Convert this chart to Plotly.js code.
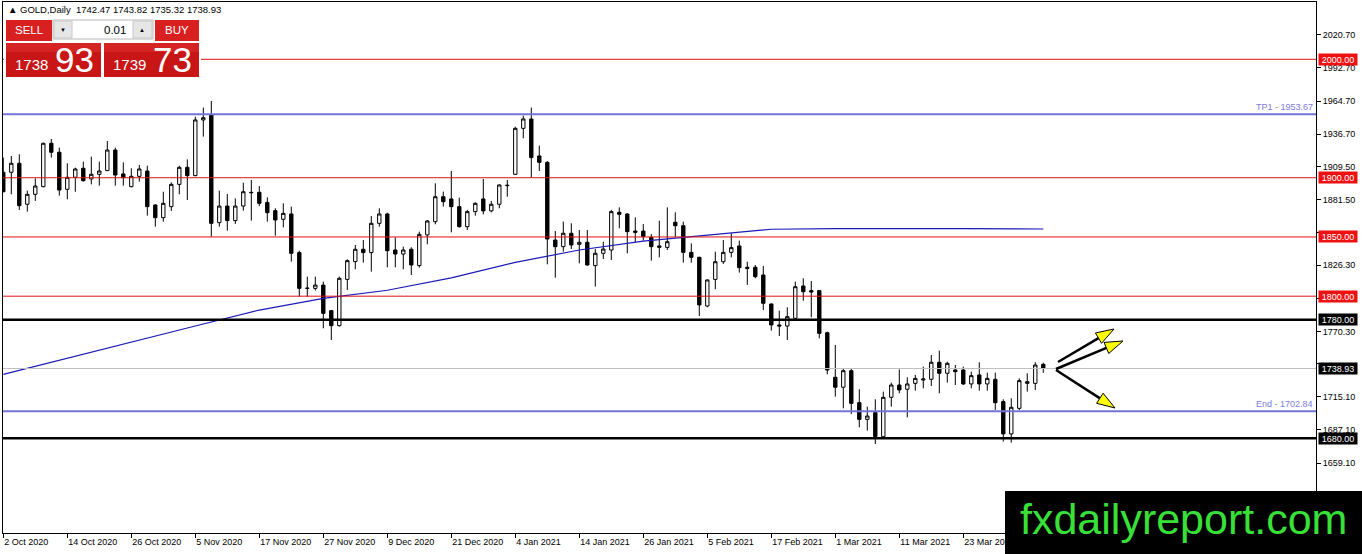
<!DOCTYPE html>
<html><head><meta charset="utf-8">
<script src="https://cdn.plot.ly/plotly-3.0.1.min.js"></script>
<style>html,body{margin:0;padding:0;background:#fff;}#chart{width:1362px;height:554px;}</style>
</head><body><div id="chart"></div>
<script>
// ---------- DATA ----------
const dates = [
'2020-10-02','2020-10-05','2020-10-06','2020-10-07','2020-10-08','2020-10-09','2020-10-12','2020-10-13','2020-10-14','2020-10-15','2020-10-16','2020-10-19','2020-10-20','2020-10-21','2020-10-22','2020-10-23','2020-10-26','2020-10-27','2020-10-28','2020-10-29','2020-10-30',
'2020-11-02','2020-11-03','2020-11-04','2020-11-05','2020-11-06','2020-11-09','2020-11-10','2020-11-11','2020-11-12','2020-11-13','2020-11-16','2020-11-17','2020-11-18','2020-11-19','2020-11-20','2020-11-23','2020-11-24','2020-11-25','2020-11-26','2020-11-27','2020-11-30',
'2020-12-01','2020-12-02','2020-12-03','2020-12-04','2020-12-07','2020-12-08','2020-12-09','2020-12-10','2020-12-11','2020-12-14','2020-12-15','2020-12-16','2020-12-17','2020-12-18','2020-12-21','2020-12-22','2020-12-23','2020-12-24','2020-12-28','2020-12-29','2020-12-30','2020-12-31',
'2021-01-04','2021-01-05','2021-01-06','2021-01-07','2021-01-08','2021-01-11','2021-01-12','2021-01-13','2021-01-14','2021-01-15','2021-01-18','2021-01-19','2021-01-20','2021-01-21','2021-01-22','2021-01-25','2021-01-26','2021-01-27','2021-01-28','2021-01-29',
'2021-02-01','2021-02-02','2021-02-03','2021-02-04','2021-02-05','2021-02-08','2021-02-09','2021-02-10','2021-02-11','2021-02-12','2021-02-15','2021-02-16','2021-02-17','2021-02-18','2021-02-19','2021-02-22','2021-02-23','2021-02-24','2021-02-25','2021-02-26',
'2021-03-01','2021-03-02','2021-03-03','2021-03-04','2021-03-05','2021-03-08','2021-03-09','2021-03-10','2021-03-11','2021-03-12','2021-03-15','2021-03-16','2021-03-17','2021-03-18','2021-03-19','2021-03-22','2021-03-23','2021-03-24','2021-03-25','2021-03-26','2021-03-29','2021-03-30','2021-03-31',
'2021-04-01','2021-04-05','2021-04-06','2021-04-07'];

const open = [1904.6,1904.6,1912.2,1877.6,1886.0,1892.5,1929.1,1921.5,1890.2,1900.4,1908.0,1899.0,1902.9,1906.0,1923.4,1903.2,1892.5,1901.2,1905.7,1877.0,1866.3,
1875.6,1894.4,1908.8,1901.8,1948.8,1953.0,1862.1,1876.1,1863.8,1876.1,1887.7,1887.7,1879.2,1872.2,1864.9,1869.4,1836.8,1806.9,1806.6,1809.4,1787.8,
1775.1,1814.2,1829.2,1839.6,1836.8,1861.5,1869.4,1839.0,1835.6,1839.6,1825.8,1851.7,1862.9,1884.0,1882.1,1875.6,1858.7,1871.4,1882.1,1872.0,1877.6,1893.3,
1902.9,1941.7,1949.6,1918.4,1913.0,1847.4,1841.8,1853.1,1843.8,1845.5,1825.8,1836.2,1839.0,1870.8,1869.4,1855.0,1855.0,1849.7,1841.2,1841.2,
1862.4,1859.5,1837.0,1832.8,1791.7,1814.2,1829.1,1837.0,1842.4,1824.4,1824.4,1817.9,1793.4,1775.7,1774.8,1781.3,1808.6,1804.7,1804.7,1769.2,
1731.5,1723.1,1737.1,1710.1,1696.0,1701.7,1681.4,1714.6,1725.0,1721.4,1726.4,1729.2,1729.8,1744.2,1734.9,1737.7,1737.7,1725.9,1733.5,1725.9,1729.8,1711.0,1683.7,
1705.3,1726.4,1726.4,1742.47];
const high = [1917.0,1918.4,1919.8,1889.1,1899.5,1929.6,1932.7,1925.4,1912.2,1908.5,1913.6,1917.8,1913.6,1931.0,1925.4,1913.0,1908.0,1910.8,1910.2,1877.5,1888.2,
1896.1,1910.2,1915.5,1951.6,1959.2,1964.8,1889.1,1886.3,1882.6,1895.8,1898.1,1893.0,1883.5,1874.2,1878.4,1875.6,1838.4,1816.5,1816.5,1812.3,1788.3,
1816.5,1831.1,1843.2,1847.4,1867.7,1874.2,1870.5,1849.7,1841.8,1841.3,1854.5,1864.3,1895.3,1888.3,1905.7,1883.2,1872.8,1879.2,1898.9,1880.4,1894.4,1898.1,
1943.1,1952.4,1959.2,1927.1,1914.1,1855.0,1863.0,1861.5,1855.9,1855.9,1839.8,1846.0,1872.8,1875.0,1870.0,1866.6,1860.9,1852.5,1863.7,1875.0,
1870.8,1862.9,1844.6,1833.4,1814.2,1837.6,1847.4,1853.1,1846.9,1829.1,1826.3,1825.5,1794.0,1787.8,1790.6,1812.3,1815.1,1812.8,1805.2,1770.0,
1758.8,1739.1,1739.1,1721.4,1706.7,1712.9,1719.4,1727.0,1738.2,1731.5,1733.5,1740.5,1750.3,1754.0,1744.7,1741.9,1740.5,1736.3,1744.2,1735.4,1735.4,1712.9,1713.8,
1730.6,1734.9,1744.2,1743.82];
const low = [1887.7,1886.0,1872.8,1871.4,1880.4,1891.9,1917.0,1884.9,1881.8,1888.2,1896.7,1894.4,1893.3,1905.7,1893.3,1893.3,1891.9,1896.7,1868.0,1858.7,1862.9,
1872.0,1886.0,1881.2,1901.2,1934.7,1850.3,1858.7,1855.3,1861.0,1872.2,1863.8,1876.1,1862.9,1851.1,1858.1,1829.2,1799.6,1799.6,1804.7,1772.9,1763.0,
1774.3,1805.2,1822.7,1828.3,1820.7,1858.7,1824.4,1824.4,1822.7,1817.9,1824.1,1843.8,1860.7,1875.6,1853.9,1857.9,1855.9,1868.0,1869.1,1870.8,1874.2,1884.0,
1902.3,1933.3,1900.1,1905.7,1826.9,1815.6,1837.6,1839.8,1827.7,1825.8,1808.1,1831.4,1830.6,1857.3,1836.2,1845.2,1846.9,1830.0,1832.8,1839.0,
1849.7,1828.3,1828.3,1783.3,1790.6,1805.8,1827.2,1832.8,1819.9,1809.5,1815.1,1788.3,1770.9,1766.4,1763.0,1780.5,1796.2,1782.2,1764.4,1734.0,
1715.2,1705.3,1700.5,1689.3,1686.5,1675.2,1680.0,1706.7,1718.0,1697.7,1720.2,1722.2,1724.2,1718.0,1727.0,1725.0,1725.0,1722.2,1720.2,1720.2,1703.9,1677.2,1676.3,
1703.9,1719.4,1720.8,1735.32];
const close = [1888.2,1912.2,1876.4,1886.0,1893.0,1929.1,1921.5,1889.6,1900.4,1907.4,1897.5,1902.9,1905.7,1923.4,1902.3,1900.1,1901.2,1907.4,1875.6,1866.3,1878.4,
1894.4,1908.8,1901.8,1948.8,1950.7,1861.5,1876.1,1863.8,1876.1,1888.2,1887.4,1878.4,1870.5,1864.3,1869.9,1836.2,1806.6,1806.6,1809.4,1785.5,1775.1,
1815.1,1830.0,1839.6,1836.8,1861.5,1869.4,1838.4,1835.6,1839.0,1826.3,1852.2,1863.5,1884.0,1879.8,1875.6,1858.7,1871.4,1878.4,1872.0,1877.6,1893.9,1893.6,
1941.7,1949.6,1917.0,1913.0,1848.3,1841.8,1853.1,1843.2,1845.5,1826.3,1836.2,1839.8,1871.4,1869.1,1854.5,1853.9,1850.3,1841.8,1842.4,1846.0,
1859.5,1837.0,1832.8,1792.6,1813.7,1829.1,1837.0,1841.0,1824.1,1823.5,1816.5,1794.0,1775.7,1774.8,1782.7,1808.0,1803.8,1803.5,1768.6,1737.7,
1723.1,1737.1,1709.5,1696.0,1698.8,1681.4,1714.6,1725.0,1720.8,1725.9,1730.6,1730.1,1744.2,1734.9,1743.3,1736.3,1725.9,1732.9,1725.9,1730.6,1710.1,1683.7,1706.2,
1728.7,1727.8,1741.9,1738.93];

const maDates = ['2020-10-02','2020-10-14','2020-10-26','2020-11-05','2020-11-17','2020-11-27','2020-12-09','2020-12-21','2021-01-04','2021-01-14','2021-01-26','2021-02-05','2021-02-17','2021-03-01','2021-03-11','2021-03-23','2021-04-07'];
const maValues = [1734.0,1747.8,1761.3,1774.8,1788.3,1798.2,1805.0,1815.5,1828.5,1839.0,1846.5,1851.5,1856.5,1857.0,1857.3,1857.0,1856.7];

const tickDates = ['2020-10-02','2020-10-14','2020-10-26','2020-11-05','2020-11-17','2020-11-27','2020-12-09','2020-12-21','2021-01-04','2021-01-14','2021-01-26','2021-02-05','2021-02-17','2021-03-01','2021-03-11','2021-03-23'];
const tickText = ['2 Oct 2020','14 Oct 2020','26 Oct 2020','5 Nov 2020','17 Nov 2020','27 Nov 2020','9 Dec 2020','21 Dec 2020','4 Jan 2021','14 Jan 2021','26 Jan 2021','5 Feb 2021','17 Feb 2021','1 Mar 2021','11 Mar 2021','23 Mar 2021'];

// price scale ticks; the ones hidden behind level labels carry no text
const priceTicks = [2020.70,1992.70,1964.70,1936.70,1909.50,1881.50,1853.50,1826.30,1798.30,1770.30,1743.10,1715.10,1687.10,1659.10];
const hiddenPriceTicks = [1853.50, 1798.30, 1743.10];

const redLevels = [2000, 1900, 1850, 1800];
const blackLevels = [1780, 1680];
const targetLevels = [1953.67, 1702.84];
const targetNames = ['TP1', 'End'];
const bidPrice = 1738.93;
const askPrice = 1739.73;
const lotSize = '0.01';
const symbolName = 'GOLD,Daily';
const watermark = 'fxdailyreport.com';

// ---------- LAYOUT HELPERS ----------
const W = 1362, H = 554;
const PL = 3, PR = 1316, PT = 2, PB = 533;
const fx = p => (p - PL) / (PR - PL);
const fy = p => (PB - p) / (PB - PT);
const FONT = 'Liberation Sans, Arial, sans-serif';
const RED_LINE = '#dd1111', PURPLE = '#7474d8', MA_BLUE = '#1a1ab8';

const shapes = [];
const annotations = [];

function rectPx(x0, y0, x1, y1, fill, line, lw) {
  shapes.push({type:'rect', xref:'paper', yref:'paper', x0:fx(x0), x1:fx(x1), y0:fy(y1), y1:fy(y0),
    fillcolor:fill, line:{color:line||fill, width:lw===undefined?0:lw}, layer:'above'});
}
function textPx(x, y, text, size, color, anchor, extra) {
  annotations.push(Object.assign({xref:'paper', yref:'paper', x:fx(x), y:fy(y), text:text, showarrow:false,
    xanchor:anchor||'center', yanchor:'middle', font:{family:FONT, size:size, color:color}}, extra||{}));
}

// horizontal levels
redLevels.forEach(v => {
  shapes.push({type:'line', xref:'paper', x0:0, x1:1, yref:'y', y0:v, y1:v, line:{color:RED_LINE, width:1}, layer:'above'});
  annotations.push({xref:'paper', x:1, xanchor:'left', xshift:2, yref:'y', y:v, yanchor:'middle', text:v.toFixed(2),
    showarrow:false, bgcolor:'#ee1111', width:38, height:11, borderpad:0, font:{family:FONT, size:9, color:'#ffffff'}});
});
shapes.push({type:'line', xref:'paper', x0:0, x1:1, yref:'y', y0:bidPrice, y1:bidPrice, line:{color:'#c0c0c0', width:1}, layer:'above'});
blackLevels.forEach(v => {
  shapes.push({type:'line', xref:'paper', x0:0, x1:1, yref:'y', y0:v, y1:v, line:{color:'#000000', width:2.5}, layer:'above'});
});
[...blackLevels, bidPrice].forEach(v => {
  annotations.push({xref:'paper', x:1, xanchor:'left', xshift:2, yref:'y', y:v, yanchor:'middle', text:v.toFixed(2),
    showarrow:false, bgcolor:'#000000', width:38, height:11, borderpad:0, font:{family:FONT, size:9, color:'#ffffff'}});
});
targetLevels.forEach((v, k) => {
  shapes.push({type:'line', xref:'paper', x0:0, x1:1, yref:'y', y0:v, y1:v, line:{color:PURPLE, width:2}, layer:'above'});
  annotations.push({xref:'paper', x:1, xanchor:'right', xshift:-1, yref:'y', y:v, yanchor:'bottom', yshift:0,
    text:targetNames[k] + ' - ' + v.toFixed(2), showarrow:false, font:{family:FONT, size:9, color:'#7b7be0'}});
});

// arrows (pixel geometry)
const arrowsPx = [
  {s:[1058, 362], t:[1114, 329]},
  {s:[1056, 369], t:[1123, 341]},
  {s:[1056, 370], t:[1115, 408]}
];
arrowsPx.forEach(a => {
  const dx = a.t[0]-a.s[0], dy = a.t[1]-a.s[1];
  const len = Math.hypot(dx, dy), ux = dx/len, uy = dy/len;
  const L = 18, w = 6;
  const bx = a.t[0]-L*ux, by = a.t[1]-L*uy;
  const nx = -uy, ny = ux;
  shapes.push({type:'line', xref:'paper', yref:'paper', x0:fx(a.s[0]), y0:fy(a.s[1]), x1:fx(bx+2*ux), y1:fy(by+2*uy),
    line:{color:'#000000', width:2.5}, layer:'above'});
  const pts = [[a.t[0], a.t[1]], [bx+w*nx, by+w*ny], [bx-w*nx, by-w*ny]];
  const path = 'M' + pts.map(p => fx(p[0]).toFixed(5) + ',' + fy(p[1]).toFixed(5)).join(' L') + ' Z';
  shapes.push({type:'path', xref:'paper', yref:'paper', path:path, fillcolor:'#ffff00', line:{color:'#000000', width:1}, layer:'above'});
});

// header
const last = close.length - 1;
textPx(6, 9, '▲ ' + symbolName + '  ' + open[last].toFixed(2) + ' ' + high[last].toFixed(2) + ' ' + low[last].toFixed(2) + ' ' + close[last].toFixed(2),
  9.5, '#000000', 'left');

// trading panel
rectPx(4, 18, 201, 78, '#ffffff', '#ffffff', 0);
rectPx(6, 20, 52, 41, '#d92020');
rectPx(155, 20, 199, 41, '#d92020');
rectPx(53, 20, 153, 39, '#ffffff', '#b8b8b8', 1);
rectPx(54, 21, 72, 38, '#e6e6e6', '#c8c8c8', 1);
rectPx(133, 21, 152, 38, '#e6e6e6', '#c8c8c8', 1);
rectPx(6, 43, 101, 77, '#c81616');
rectPx(104, 43, 199, 77, '#c81616');
rectPx(6, 43, 101, 52, '#d42424');
rectPx(104, 43, 199, 52, '#d42424');
textPx(29, 30, 'SELL', 11.5, '#ffffff');
textPx(177, 30, 'BUY', 11.5, '#ffffff');
textPx(63, 30, '▼', 6, '#000000');
textPx(142, 30, '▲', 6, '#000000');
textPx(128, 30, lotSize, 11.5, '#000000', 'right');
const bidStr = bidPrice.toFixed(2).split('.');
const askStr = askPrice.toFixed(2).split('.');
textPx(50, 64, bidStr[0], 15, '#ffffff', 'right');
textPx(53, 59, bidStr[1], 35, '#ffffff', 'left');
textPx(148, 64, askStr[0], 15, '#ffffff', 'right');
textPx(151, 59, askStr[1], 35, '#ffffff', 'left');

// watermark
rectPx(1005, 491, 1362, 554, '#000000');
textPx(1183, 519, watermark, 43, '#38e038', 'center');

// ---------- TRACES ----------
const traces = [
  {type:'scatter', mode:'lines', x:maDates, y:maValues, line:{color:MA_BLUE, width:1.2}, hoverinfo:'skip'},
  {type:'candlestick', x:dates, open:open, high:high, low:low, close:close, whiskerwidth:0,
    increasing:{line:{color:'#000000', width:1}, fillcolor:'#ffffff'},
    decreasing:{line:{color:'#000000', width:1}, fillcolor:'#000000'}, hoverinfo:'skip'}
];

const layout = {
  width:W, height:H,
  margin:{l:PL, r:W-PR, t:PT, b:H-PB, pad:0},
  paper_bgcolor:'#ffffff', plot_bgcolor:'#ffffff',
  showlegend:false, hovermode:false, boxgap:0.4,
  font:{family:FONT, size:9, color:'#000000'},
  xaxis:{type:'category', categoryorder:'array', categoryarray:dates, range:[-0.0375, 164.09], autorange:false,
    rangeslider:{visible:false}, showgrid:false, zeroline:false,
    tickmode:'array', tickvals:tickDates, ticktext:tickText, ticks:'outside', ticklen:4, tickcolor:'#000000',
    ticklabelposition:'outside right', tickfont:{family:FONT, size:9, color:'#000000'},
    showline:true, linecolor:'#000000', linewidth:1, mirror:true},
  yaxis:{side:'right', range:[1600.05, 2048.38], autorange:false, showgrid:false, zeroline:false,
    tickmode:'array', tickvals:priceTicks,
    ticktext:priceTicks.map(v => hiddenPriceTicks.includes(v) ? '' : v.toFixed(2)),
    ticks:'outside', ticklen:4, tickcolor:'#000000', tickfont:{family:FONT, size:9, color:'#000000'},
    showline:true, linecolor:'#000000', linewidth:1, mirror:true},
  shapes:shapes, annotations:annotations
};

Plotly.newPlot('chart', traces, layout, {staticPlot:true, displayModeBar:false});
</script>
</body></html>
